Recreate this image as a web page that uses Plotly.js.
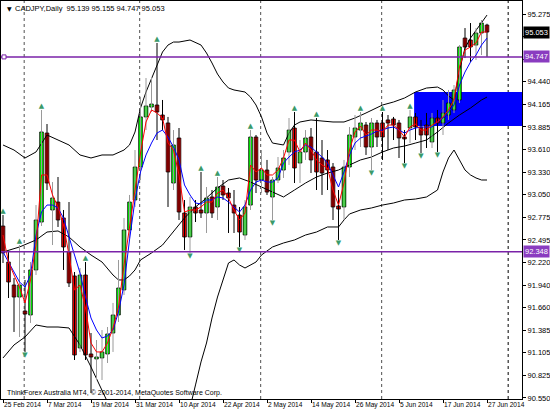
<!DOCTYPE html>
<html>
<head>
<meta charset="utf-8">
<script src="https://cdn.plot.ly/plotly-3.0.1.min.js"></script>
<style>html,body{margin:0;padding:0;background:#fff;}#chart{width:550px;height:412px;}</style>
</head>
<body>
<div id="chart"></div>
<script>
// ---------- DATA (CADJPY Daily) ----------
const dates = [
'2014-02-25','2014-02-26','2014-02-27','2014-02-28',
'2014-03-03','2014-03-04','2014-03-05','2014-03-06','2014-03-07','2014-03-10','2014-03-11','2014-03-12','2014-03-13','2014-03-14',
'2014-03-17','2014-03-18','2014-03-19','2014-03-20','2014-03-21','2014-03-24','2014-03-25','2014-03-26','2014-03-27','2014-03-28','2014-03-31',
'2014-04-01','2014-04-02','2014-04-03','2014-04-04','2014-04-07','2014-04-08','2014-04-09','2014-04-10','2014-04-11','2014-04-14','2014-04-15',
'2014-04-16','2014-04-17','2014-04-18','2014-04-21','2014-04-22','2014-04-23','2014-04-24','2014-04-25','2014-04-28','2014-04-29','2014-04-30',
'2014-05-01','2014-05-02','2014-05-05','2014-05-06','2014-05-07','2014-05-08','2014-05-09','2014-05-12','2014-05-13','2014-05-14','2014-05-15',
'2014-05-16','2014-05-19','2014-05-20','2014-05-21','2014-05-22','2014-05-23','2014-05-26','2014-05-27','2014-05-28','2014-05-29','2014-05-30',
'2014-06-02','2014-06-03','2014-06-04','2014-06-05','2014-06-06','2014-06-09','2014-06-10','2014-06-11','2014-06-12','2014-06-13','2014-06-16',
'2014-06-17','2014-06-18','2014-06-19','2014-06-20','2014-06-23','2014-06-24','2014-06-25','2014-06-26','2014-06-27'];

const opens = [92.666,92.223,91.940,91.792,91.620,91.571,92.125,92.715,93.810,92.863,92.961,92.765,92.346,92.051,
91.165,92.063,91.091,91.030,91.042,91.091,91.349,91.571,91.879,92.617,92.986,
93.392,94.008,94.130,94.155,94.032,93.934,93.195,93.749,92.826,92.531,92.900,
92.863,92.826,93.023,92.900,93.158,93.072,92.924,92.801,92.555,92.924,93.761,
93.232,93.355,93.023,93.232,93.355,93.577,93.872,93.441,93.577,93.761,93.577,
93.503,93.479,93.392,92.912,92.900,93.392,93.761,93.847,93.909,93.638,93.934,
93.934,93.971,93.983,93.934,93.761,93.872,94.008,93.884,93.909,93.700,93.995,
93.934,94.032,94.094,94.217,94.979,94.955,94.893,95.041,95.139];
const highs = [92.801,92.346,92.026,92.432,92.002,92.223,92.924,94.094,93.921,93.207,93.269,92.863,92.961,92.100,
92.149,92.223,91.349,91.263,91.386,91.423,91.719,92.248,92.765,93.048,93.601,
94.253,94.487,94.500,94.918,94.217,94.008,93.847,93.872,92.986,93.023,92.986,
93.331,93.146,93.109,93.269,93.232,93.134,93.109,92.900,92.986,93.847,93.786,
93.601,93.479,93.269,93.515,93.601,93.995,94.069,93.724,93.847,93.872,93.995,
93.724,93.601,93.441,93.109,93.479,93.884,94.032,94.069,93.946,93.995,93.971,
94.069,94.032,94.008,93.971,93.847,94.094,94.057,93.971,94.057,94.057,94.094,
94.217,94.340,94.401,94.893,95.102,95.164,95.102,95.201,95.155];
const lows = [92.211,91.780,91.362,91.300,91.116,91.473,92.063,92.666,93.109,92.432,92.654,92.125,91.915,91.017,
91.116,91.017,90.611,90.771,90.771,90.980,91.116,91.485,91.817,92.518,92.900,
93.232,93.847,94.069,93.724,93.847,92.900,93.109,92.740,92.371,92.334,92.715,
92.765,92.580,92.765,92.740,92.986,92.580,92.580,92.408,92.494,92.863,93.072,
93.072,93.048,92.740,93.195,93.257,93.417,93.195,93.195,93.479,93.318,93.109,
93.048,93.109,92.740,92.494,92.740,93.269,93.601,93.638,93.540,93.355,93.638,
93.479,93.601,93.724,93.503,93.441,93.687,93.724,93.564,93.626,93.626,93.577,
93.786,93.971,94.057,94.180,94.733,94.684,94.709,94.770,94.747];
const closes = [92.334,91.977,91.792,91.940,91.583,92.125,92.740,93.823,93.195,93.011,92.740,92.408,91.965,91.079,
92.063,91.079,91.054,91.054,91.116,91.337,91.571,91.903,92.617,92.961,93.392,
94.008,94.143,94.167,94.069,93.971,93.331,93.663,92.838,92.531,92.900,92.826,
92.826,93.011,92.826,93.146,93.048,93.011,92.826,92.592,92.900,93.761,93.232,
93.355,93.084,93.232,93.380,93.503,93.847,93.380,93.577,93.749,93.479,93.331,
93.318,93.355,92.900,92.875,93.392,93.786,93.872,93.934,93.638,93.934,93.761,
93.761,93.934,93.909,93.749,93.737,94.008,93.884,93.786,93.786,93.995,93.934,
94.057,94.180,94.340,94.869,94.869,94.869,95.041,95.164,95.053];

// fast MA (red) and slow MA (blue), one value per bar
const fastMA = [92.555,92.223,92.063,91.915,91.719,92.002,92.432,93.294,93.294,93.048,92.900,92.678,92.309,91.879,
91.940,91.657,91.226,91.116,91.116,91.226,91.411,91.669,92.186,92.678,93.109,
93.564,93.946,94.094,94.057,93.995,93.687,93.601,93.294,92.838,92.863,92.863,
92.900,92.961,92.961,93.072,93.109,93.011,92.863,92.740,92.826,93.417,93.331,
93.380,93.294,93.294,93.355,93.503,93.724,93.724,93.577,93.687,93.601,93.479,
93.417,93.380,93.109,92.924,93.195,93.601,93.823,93.897,93.786,93.847,93.847,
93.823,93.909,93.909,93.847,93.761,93.884,93.921,93.847,93.847,93.909,93.946,
94.008,94.094,94.217,94.623,94.832,94.869,94.918,95.053,95.053];
const slowMA = [92.346,92.223,92.100,91.977,91.915,92.063,92.555,92.838,92.924,92.924,92.888,92.765,92.531,92.309,
92.088,91.792,91.534,91.386,91.288,91.312,91.386,91.608,91.940,92.494,92.986,
93.331,93.540,93.687,93.810,93.847,93.761,93.638,93.479,93.171,93.048,92.949,
92.937,92.986,92.986,93.023,93.011,92.961,92.900,92.838,92.924,93.109,93.207,
93.232,93.207,93.207,93.257,93.441,93.515,93.577,93.601,93.663,93.638,93.577,
93.515,93.441,93.294,93.146,93.331,93.540,93.687,93.749,93.773,93.798,93.835,
93.847,93.872,93.884,93.847,93.810,93.847,93.872,93.884,93.884,93.884,93.946,
93.995,94.069,94.155,94.401,94.561,94.684,94.770,94.893,94.979];

// Bollinger bands, read at sampled bars
const upperDates = ['2014-02-25','2014-02-27','2014-03-03','2014-03-05','2014-03-07','2014-03-11','2014-03-13','2014-03-17','2014-03-19','2014-03-21','2014-03-25','2014-03-27','2014-03-28','2014-03-31',
'2014-04-01','2014-04-02','2014-04-03','2014-04-04','2014-04-07','2014-04-08','2014-04-09','2014-04-10','2014-04-14','2014-04-16','2014-04-17','2014-04-18','2014-04-21','2014-04-22','2014-04-23','2014-04-24','2014-04-28','2014-04-29','2014-04-30',
'2014-05-01','2014-05-02','2014-05-05','2014-05-07','2014-05-08','2014-05-09','2014-05-12','2014-05-14','2014-05-16','2014-05-20','2014-05-22','2014-05-26','2014-05-28','2014-05-30',
'2014-06-02','2014-06-04','2014-06-06','2014-06-10','2014-06-12','2014-06-16','2014-06-17','2014-06-18','2014-06-19','2014-06-20','2014-06-23','2014-06-24','2014-06-25','2014-06-26','2014-06-27'];
const upperBand = [93.663,93.601,93.503,93.577,93.786,93.724,93.663,93.540,93.503,93.540,93.540,93.601,93.663,93.823,
94.118,94.315,94.487,94.647,94.807,94.893,94.930,94.930,94.955,94.893,94.795,94.672,94.536,94.438,94.364,94.340,94.315,94.253,94.155,
94.008,93.810,93.687,93.663,93.810,93.909,93.946,93.971,93.958,93.946,93.946,93.995,94.057,94.118,
94.155,94.192,94.241,94.315,94.364,94.376,94.340,94.266,94.217,94.586,94.856,94.979,95.078,95.176,95.262];

const middleDates = ['2014-02-25','2014-02-28','2014-03-05','2014-03-07','2014-03-11','2014-03-13','2014-03-17','2014-03-19','2014-03-21','2014-03-25','2014-03-26','2014-03-27','2014-03-28','2014-03-31',
'2014-04-01','2014-04-03','2014-04-07','2014-04-09','2014-04-11','2014-04-15','2014-04-17','2014-04-21','2014-04-23','2014-04-25','2014-04-29',
'2014-05-01','2014-05-05','2014-05-07','2014-05-09','2014-05-13','2014-05-15','2014-05-19','2014-05-21','2014-05-23','2014-05-27','2014-05-29',
'2014-06-02','2014-06-04','2014-06-06','2014-06-10','2014-06-12','2014-06-16','2014-06-18','2014-06-20','2014-06-24','2014-06-26','2014-06-27'];
const middleBand = [92.346,92.408,92.494,92.592,92.605,92.531,92.408,92.309,92.223,92.063,92.002,92.002,92.051,92.125,
92.248,92.334,92.432,92.592,92.765,92.900,93.011,93.134,93.232,93.257,93.207,
93.146,93.084,93.023,93.109,93.195,93.269,93.318,93.355,93.417,93.479,93.515,
93.577,93.626,93.650,93.687,93.724,93.823,93.934,94.032,94.118,94.217,94.253];

const lowerDates = ['2014-02-25','2014-02-27','2014-03-03','2014-03-05','2014-03-07','2014-03-11','2014-03-13','2014-03-17','2014-03-19','2014-03-21','2014-03-24','2014-03-26','2014-03-31',
'2014-04-03','2014-04-08','2014-04-10','2014-04-14','2014-04-15','2014-04-16','2014-04-17','2014-04-18','2014-04-21','2014-04-22','2014-04-23','2014-04-24','2014-04-25','2014-04-28','2014-04-29','2014-04-30',
'2014-05-01','2014-05-05','2014-05-07','2014-05-09','2014-05-13','2014-05-15','2014-05-19','2014-05-21','2014-05-22','2014-05-23','2014-05-27','2014-05-29',
'2014-06-02','2014-06-04','2014-06-06','2014-06-10','2014-06-12','2014-06-16','2014-06-17','2014-06-18','2014-06-19','2014-06-20','2014-06-23','2014-06-24','2014-06-25','2014-06-26','2014-06-27'];
const lowerBand = [91.042,91.202,91.300,91.448,91.423,91.423,91.411,91.202,90.931,90.648,90.500,90.279,90.033,
89.910,89.971,90.156,90.427,90.710,90.993,91.226,91.534,91.792,92.002,92.211,92.248,92.186,92.149,92.186,92.223,
92.309,92.408,92.457,92.494,92.555,92.592,92.654,92.654,92.740,92.814,92.863,92.888,
92.924,92.949,92.986,92.998,93.023,93.109,93.331,93.503,93.601,93.479,93.355,93.294,93.257,93.232,93.232];

// Fractals (bars whose high / low is marked)
const upFractalDates = ['2014-02-25','2014-02-28','2014-03-06','2014-03-18','2014-04-04','2014-04-16','2014-04-21','2014-04-29','2014-05-09','2014-05-15','2014-05-27','2014-06-02','2014-06-09'];
const downFractalDates = ['2014-03-03','2014-04-14','2014-04-25','2014-05-05','2014-05-21','2014-05-29','2014-06-06','2014-06-11','2014-06-16'];

// Horizontal levels, zone, separators
const levels = [94.747, 92.348];
const zoneStartDate = '2014-06-10';
const zoneHigh = 94.315, zoneLow = 93.897;
const separatorDates = ['2014-03-03','2014-04-01','2014-05-01','2014-06-02'];
const futureSeparatorBarsAhead = 4;

const xTickDates = ['2014-02-25','2014-03-07','2014-03-19','2014-03-31','2014-04-10','2014-04-22','2014-05-02','2014-05-14','2014-05-26','2014-06-05','2014-06-17','2014-06-27'];
const xTickText = ['25 Feb 2014','7 Mar 2014','19 Mar 2014','31 Mar 2014','10 Apr 2014','22 Apr 2014','2 May 2014','14 May 2014','26 May 2014','5 Jun 2014','17 Jun 2014','27 Jun 2014'];
const yTicks = [95.275,95.000,94.720,94.440,94.165,93.885,93.610,93.330,93.050,92.775,92.495,92.220,91.940,91.660,91.385,91.105,90.825,90.550];
const yTicksHidden = [95.000,94.720]; // covered by the price / level boxes in the reference

const symbolName = 'CADJPY,Daily';
const copyrightText = 'ThinkForex Australia MT4, © 2001-2014, MetaQuotes Software Corp.';

// ---------- BUILD ----------
const idx = d => dates.indexOf(d);
const n = dates.length;
const xs = dates.map((d,i)=>i);

const wickUpX=[], wickUpY=[], wickDnX=[], wickDnY=[];
for (let i=0;i<n;i++){
  if (closes[i] >= opens[i]) { wickUpX.push(i,i,null); wickUpY.push(lows[i],highs[i],null); }
  else { wickDnX.push(i,i,null); wickDnY.push(lows[i],highs[i],null); }
}
const bodyBase = opens.map((o,i)=>Math.min(o,closes[i]));
const bodyH = opens.map((o,i)=>Math.max(Math.abs(closes[i]-o), 0.004));
const bodyCol = opens.map((o,i)=> closes[i]>=o ? '#00ff00' : '#ff0000');

const FONT = '"Liberation Sans", Arial, sans-serif';
const FRACTAL_COL = '#3a9a6a';
const traces = [
  {type:'scatter', mode:'lines', x:upperDates.map(idx), y:upperBand, line:{color:'#000',width:1}, hoverinfo:'skip'},
  {type:'scatter', mode:'lines', x:middleDates.map(idx), y:middleBand, line:{color:'#000',width:1}, hoverinfo:'skip'},
  {type:'scatter', mode:'lines', x:lowerDates.map(idx), y:lowerBand, line:{color:'#000',width:1}, hoverinfo:'skip'},
  {type:'scatter', mode:'lines', x:wickUpX, y:wickUpY, line:{color:'#9a9a9a',width:1}, hoverinfo:'skip', connectgaps:false},
  {type:'scatter', mode:'lines', x:wickDnX, y:wickDnY, line:{color:'#000',width:1}, hoverinfo:'skip', connectgaps:false},
  {type:'bar', x:xs, base:bodyBase, y:bodyH, width:0.66, marker:{color:bodyCol, line:{color:'#000',width:0.8}}, hoverinfo:'skip'},
  {type:'scatter', mode:'lines', x:xs, y:slowMA, line:{color:'#0000ff',width:1}, hoverinfo:'skip'},
  {type:'scatter', mode:'lines', x:xs, y:fastMA, line:{color:'#ff0000',width:1}, hoverinfo:'skip'},
  {type:'scatter', mode:'text', x:upFractalDates.map(idx), y:upFractalDates.map(d=>highs[idx(d)]), text:upFractalDates.map(()=>'▲'),
   textposition:'top center', textfont:{color:FRACTAL_COL,size:7,family:'DejaVu Sans'}, hoverinfo:'skip'},
  {type:'scatter', mode:'text', x:downFractalDates.map(idx), y:downFractalDates.map(d=>lows[idx(d)]), text:downFractalDates.map(()=>'▼'),
   textposition:'bottom center', textfont:{color:FRACTAL_COL,size:7,family:'DejaVu Sans'}, hoverinfo:'skip'}
];

const xMin = -0.364, xMax = 94.364;
const shapes = [];
shapes.push({type:'rect', layer:'below', xref:'x', yref:'y', x0: idx(zoneStartDate)-0.25, x1: xMax, y0: zoneLow, y1: zoneHigh, fillcolor:'#0000ff', line:{width:0}});
separatorDates.forEach(d=>{
  const xv = idx(d)-0.15;
  shapes.push({type:'line', layer:'below', xref:'x', yref:'paper', x0:xv, x1:xv, y0:0, y1:1, line:{color:'#505050', width:1, dash:'dot'}});
});
const fx = (n-1)+futureSeparatorBarsAhead-0.15;
shapes.push({type:'line', layer:'below', xref:'x', yref:'paper', x0:fx, x1:fx, y0:0, y1:1, line:{color:'#000', width:1, dash:'dot'}});
levels.forEach(v=>{
  shapes.push({type:'line', xref:'paper', yref:'y', x0:0, x1:1, y0:v, y1:v, line:{color:'#7a22a8', width:1.5}});
});
shapes.push({type:'rect', xref:'paper', yref:'y', xsizemode:'pixel', ysizemode:'pixel', xanchor:0, yanchor:levels[0], x0:1, x1:5, y0:-2, y1:2, fillcolor:'#ffffff', line:{color:'#7a22a8', width:1}});

const last = n-1;
const annotations = [
  {xref:'paper', yref:'paper', x:0, y:1, xanchor:'left', yanchor:'top', xshift:4, yshift:-2, showarrow:false, text:'▼', font:{size:6, color:'#000', family:'DejaVu Sans'}},
  {xref:'paper', yref:'paper', x:0, y:1, xanchor:'left', yanchor:'top', xshift:12, yshift:-1, showarrow:false,
   text: symbolName + '  ' + [opens[last],highs[last],lows[last],closes[last]].map(v=>v.toFixed(3)).join(' '), font:{size:7.5, color:'#000', family:FONT}},
  {xref:'paper', yref:'paper', x:0, y:0, xanchor:'left', yanchor:'bottom', xshift:4, yshift:0, showarrow:false, text:copyrightText, font:{size:7, color:'#000', family:FONT}},
  {xref:'paper', yref:'y', x:1, y:closes[last], xanchor:'left', yanchor:'middle', xshift:1, showarrow:false, text:closes[last].toFixed(3), bgcolor:'#000', borderpad:1, font:{size:7.5,color:'#fff',family:FONT}}
];
levels.forEach(v=>{
  annotations.push({xref:'paper', yref:'y', x:1, y:v, xanchor:'left', yanchor:'middle', xshift:1, showarrow:false, text:v.toFixed(3), bgcolor:'#8a3cc0', borderpad:1, font:{size:7.5,color:'#fff',family:FONT}});
});
// x-axis date labels, left-aligned at their tick like the terminal draws them
xTickDates.forEach((d,k)=>{
  annotations.push({xref:'x', yref:'paper', x:idx(d), y:0, xanchor:'left', yanchor:'top', xshift:0, yshift:-1, showarrow:false,
    text:xTickText[k], font:{size:6.6,color:'#000',family:FONT}, borderpad:0});
});

const layout = {
  width:550, height:412,
  margin:{l:1, r:28, t:1, b:13, pad:0},
  paper_bgcolor:'#ffffff', plot_bgcolor:'#ffffff',
  showlegend:false,
  font:{family:FONT, size:7, color:'#000'},
  bargap:0,
  xaxis:{range:[xMin,xMax], showgrid:false, zeroline:false, showline:true, mirror:true, linecolor:'#000', linewidth:1,
         ticks:'outside', ticklen:3, tickcolor:'#000', tickvals:xTickDates.map(idx), showticklabels:false,
         fixedrange:true, automargin:false},
  yaxis:{range:[90.537,95.435], side:'right', showgrid:false, zeroline:false, showline:true, mirror:true, linecolor:'#000', linewidth:1,
         ticks:'outside', ticklen:3, tickcolor:'#000', tickvals:yTicks,
         ticktext:yTicks.map(v=> yTicksHidden.includes(v) ? '' : v.toFixed(3)),
         tickfont:{size:7.5, family:FONT}, fixedrange:true, automargin:false},
  shapes, annotations
};

Plotly.newPlot('chart', traces, layout, {displayModeBar:false, staticPlot:true});
</script>
</body>
</html>
